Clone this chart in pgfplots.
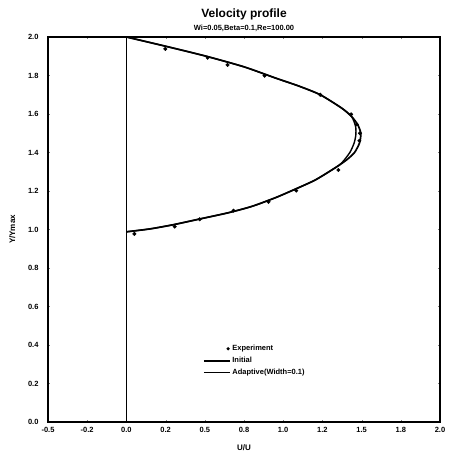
\documentclass[border=0pt]{standalone}
\usepackage{pgfplots}
\pgfplotsset{compat=1.18}
\usepackage{fontspec}
\setmainfont{Liberation Sans}
\begin{document}
\begin{tikzpicture}
\begin{axis}[
  scale only axis,
  width=392pt, height=385pt,
  xmin=-0.5, xmax=2.0, ymin=0, ymax=2.0,
  xtick={-0.5,-0.25,0,0.25,0.5,0.75,1.0,1.25,1.5,1.75,2.0},
  xticklabels={-0.5,-0.2,0.0,0.2,0.5,0.8,1.0,1.2,1.5,1.8,2.0},
  ytick={0,0.2,0.4,0.6,0.8,1.0,1.2,1.4,1.6,1.8,2.0},
  yticklabel style={/pgf/number format/fixed,/pgf/number format/fixed zerofill,/pgf/number format/precision=1, xshift=-6pt},
  xticklabel style={yshift=-2pt},
  /pgf/number format/assume math mode=true,
  tick label style={font=\fontsize{7.5}{8}\selectfont\bfseries},
  major tick length=2pt,
  tick align=inside,
  axis line style={line width=1.5pt},
  title={\fontsize{12}{13}\selectfont\bfseries Velocity profile\\[1pt]\fontsize{7.5}{8}\selectfont\bfseries Wi=0.05,Beta=0.1,Re=100.00},
  title style={align=center, yshift=-4pt},
  xlabel={\bfseries\fontsize{8}{9}\selectfont U/U},
  ylabel={\bfseries\fontsize{8}{9}\selectfont Y/Ymax},
  xlabel style={yshift=-5pt},
  ylabel style={yshift=6pt},
  legend style={draw=none, fill=none, at={(0.395,0.205)}, anchor=north west,
    font=\fontsize{7.5}{8}\selectfont\bfseries, row sep=1pt, inner sep=0pt},
  legend cell align=left,
]
\addplot[black, line width=1.3pt, forget plot] coordinates {(0,0) (0,2.0)};
\addplot[only marks, mark=*, mark size=1.8pt, black,
  legend image code/.code={\pgfpathcircle{\pgfpoint{0.85cm}{0cm}}{1.8pt}\pgfusepath{fill}}]
  coordinates {
  (0.248,1.938) (0.518,1.892) (0.645,1.855) (0.881,1.799) (1.236,1.700)
  (1.433,1.598) (1.469,1.546) (1.490,1.500) (1.486,1.461) (1.352,1.309)
  (1.083,1.202) (0.906,1.144) (0.683,1.098) (0.467,1.053) (0.308,1.015)
  (0.051,0.977)};
\addlegendentry{Experiment}
\addplot[black, line width=1.7pt, smooth, tension=0.4,
  legend image code/.code={\draw[line width=1.7pt] (0cm,0cm) -- (0.9cm,0cm);}]
  coordinates {
  (0,2.0) (0.25,1.952) (0.5,1.902) (0.75,1.845) (0.95,1.787) (1.1,1.745)
  (1.236,1.70) (1.374,1.63) (1.437,1.586) (1.475,1.545) (1.495,1.50)
  (1.487,1.45) (1.455,1.40) (1.405,1.362) (1.342,1.326) (1.204,1.257)
  (1.05,1.20) (0.95,1.165) (0.8,1.12) (0.65,1.087) (0.47,1.055)
  (0.30,1.025) (0.15,1.003) (0,0.988)};
\addlegendentry{Initial}
\addplot[black, line width=1.4pt, smooth, tension=0.4,
  legend image code/.code={\draw[line width=1.4pt] (0cm,0cm) -- (0.9cm,0cm);}]
  coordinates {
  (0,2.0) (0.25,1.952) (0.5,1.902) (0.75,1.845) (0.95,1.787) (1.1,1.745)
  (1.236,1.70) (1.374,1.63) (1.437,1.586) (1.462,1.534) (1.463,1.49)
  (1.452,1.448) (1.425,1.40) (1.38,1.352) (1.342,1.326) (1.204,1.257)
  (1.05,1.20) (0.95,1.165) (0.8,1.12) (0.65,1.087) (0.47,1.055)
  (0.30,1.025) (0.15,1.003) (0,0.988)};
\addlegendentry{Adaptive(Width=0.1)}
\end{axis}
\path (current axis.south west) ++(-48pt,-40pt) coordinate (bbl);
\path (current axis.north east) ++(11pt,37pt) coordinate (bbr);
\path (bbl) rectangle (bbr);
\end{tikzpicture}
\end{document}
